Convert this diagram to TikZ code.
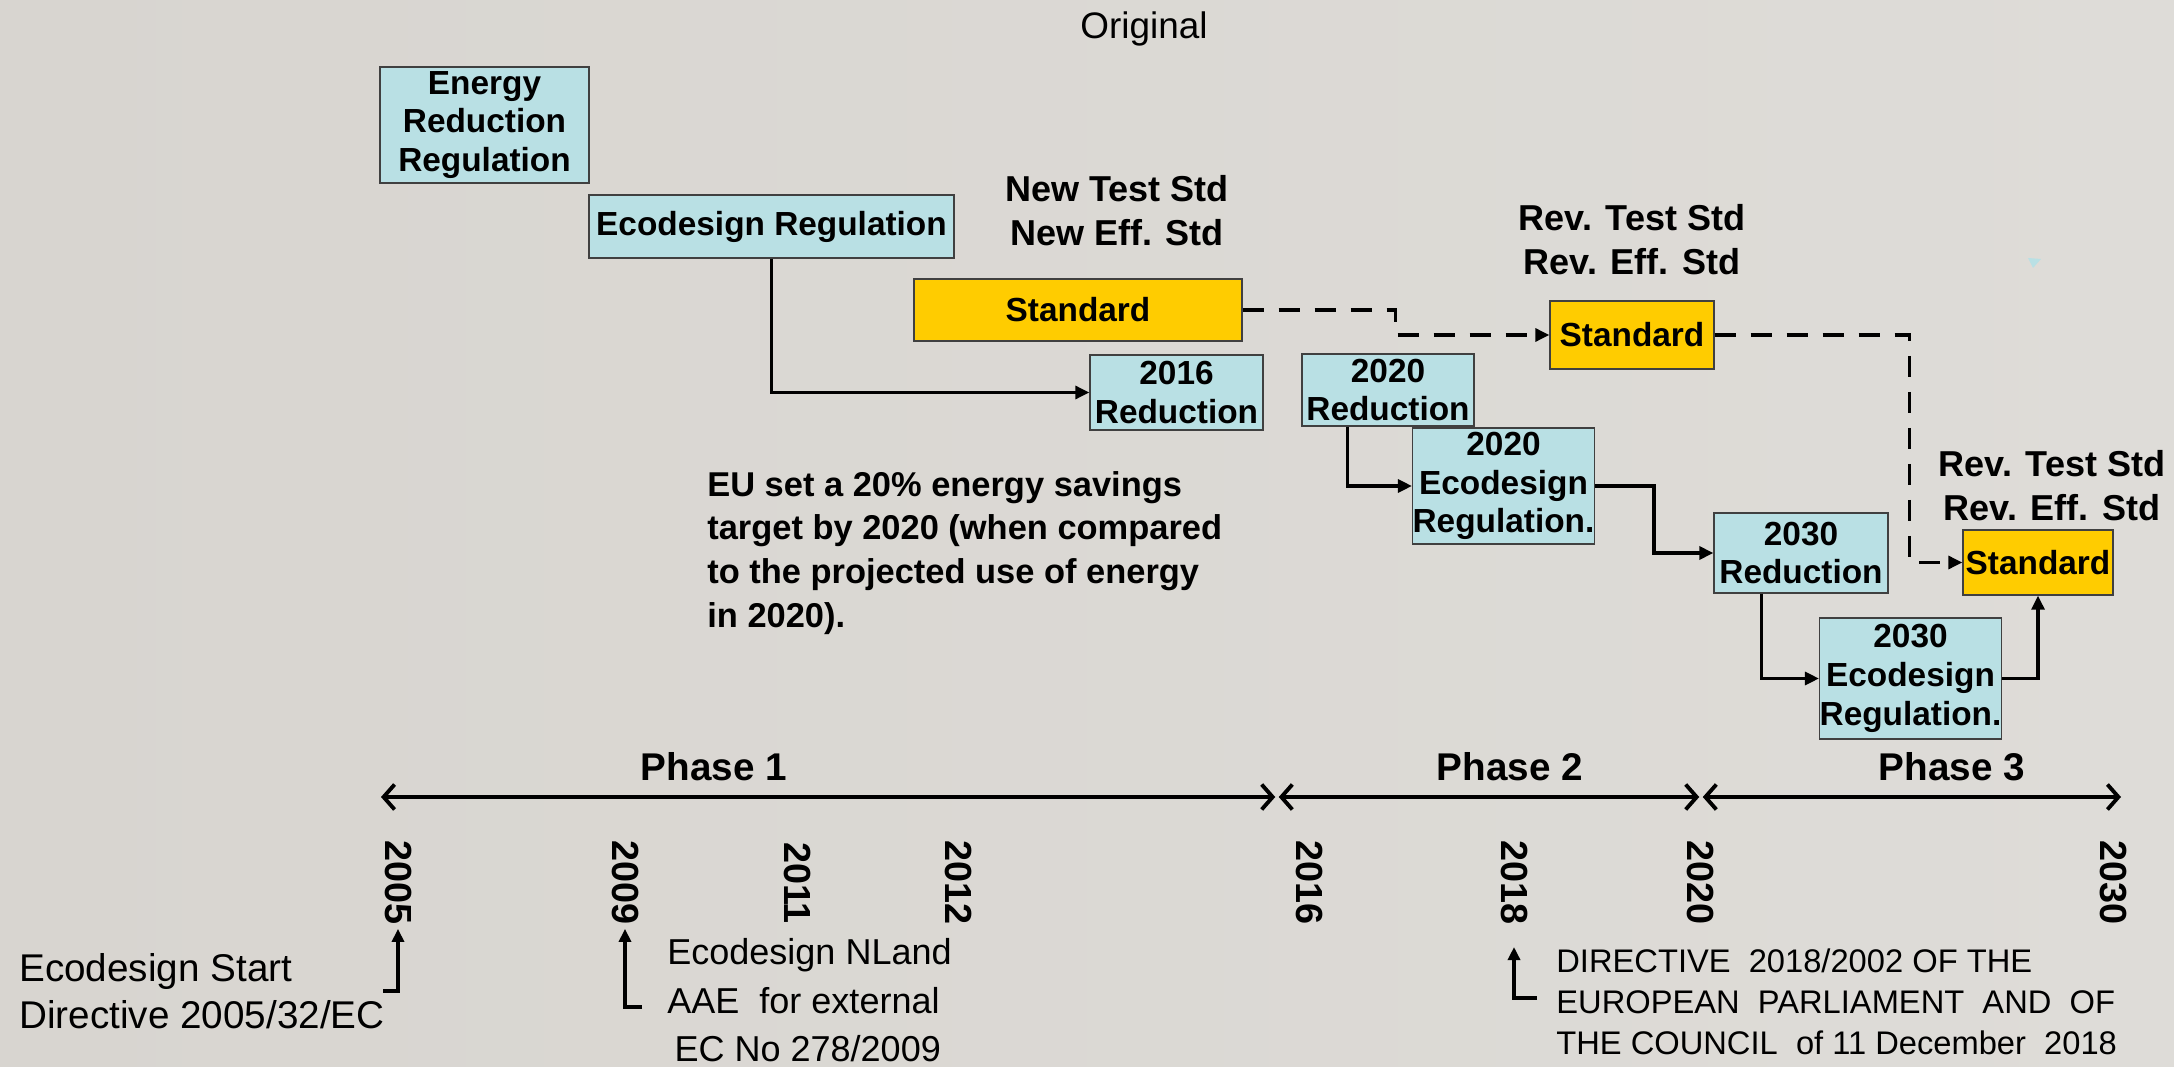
\documentclass[tikz,border=0pt]{standalone}
\usepackage{fontspec}
\setmainfont{Liberation Sans}
\usetikzlibrary{arrows.meta,positioning}
\definecolor{boxblue}{RGB}{185,224,228}
\definecolor{stdyellow}{RGB}{255,204,0}
\definecolor{bgleft}{RGB}{216,213,208}
\definecolor{bgmid}{RGB}{233,231,228}
\definecolor{bgright}{RGB}{222,220,216}

\begin{document}
\begin{tikzpicture}[x=0.02cm,y=-0.02cm]
\tikzset{
    box/.style={
           rectangle,
           draw=black!75,
           line width=0.8pt,
           fill=boxblue,
           align=center,
           inner sep=0pt,
           font=\bfseries\fontsize{19}{22}\selectfont},
    stdbox/.style={
           box,
           fill=stdyellow},
    heading/.style={
           align=center,
           font=\bfseries\fontsize{20.5}{25}\selectfont},
    note/.style={
           anchor=west,
           align=left,
           inner sep=0pt,
           font=\fontsize{20.5}{21}\selectfont},
    year/.style={
           rotate=-90,
           inner sep=2pt,
           font=\bfseries\fontsize{21.5}{24}\selectfont},
    % Define arrow style
    arrow/.style= {
           -{Triangle[length=0.28cm,width=0.26cm]},
           line width=1.8pt},
    dasharrow/.style={
           arrow,
           dash pattern=on 0.42cm off 0.3cm},
    annot/.style={
           -{Triangle[length=0.26cm,width=0.24cm]},
           line width=2pt},
    timeline/.style={
           {Straight Barb[length=0.22cm,width=0.5cm]}-{Straight Barb[length=0.22cm,width=0.5cm]},
           line width=2.2pt}
}
\useasboundingbox (0,0) rectangle (2174,1067);
\shade[left color=bgleft, middle color=bgmid, right color=bgright] (0,0) rectangle (2174,1067);
\fill[boxblue] (2028,258) -- (2041,259) -- (2033,268) -- cycle;

\node[font=\fontsize{21}{25}\selectfont] (title) at (1144,29) {Original};

% boxes
\node[box,minimum width=4.18cm,minimum height=2.32cm] (energy) at (484.5,125) {Energy\\Reduction\\Regulation};
\node[box,minimum width=7.3cm,minimum height=1.26cm] (ecoreg) at (771.5,226.5) {Ecodesign Regulation};
\node[stdbox,minimum width=6.56cm,minimum height=1.24cm] (std1) at (1078,310) {Standard};
\node[box,minimum width=3.46cm,minimum height=1.5cm] (red16) at (1176.5,392.5) {2016\\Reduction};
\node[stdbox,minimum width=3.28cm,minimum height=1.36cm] (std2) at (1632,335) {Standard};
\node[box,minimum width=3.44cm,minimum height=1.44cm] (red20) at (1388,390) {2020\\Reduction};
\node[box,minimum width=3.62cm,minimum height=2.32cm] (eco20) at (1503.5,486) {2020\\Ecodesign\\Regulation.};
\node[box,minimum width=3.48cm,minimum height=1.6cm] (red30) at (1801,553) {2030\\Reduction};
\node[box,minimum width=3.62cm,minimum height=2.42cm] (eco30) at (1910.5,678.5) {2030\\Ecodesign\\Regulation.};
\node[stdbox,minimum width=3.0cm,minimum height=1.3cm] (std3) at (2038,562.5) {Standard};

\node[heading] (newstd) at (1117,211) {New Test Std\\New Eff. Std};
\node[heading] (revstd) at (1632,240) {Rev. Test Std\\Rev. Eff. Std};
\node[heading] (revstd3) at (2052,486) {Rev. Test Std\\Rev. Eff. Std};

\node[anchor=west,align=left,inner sep=0pt,font=\bfseries\fontsize{19.6}{25}\selectfont] (target) at (707,553)
  {EU set a 20\% energy savings\\target by 2020 (when compared\\to the projected use of energy\\in 2020).};

% connectors
\draw[arrow] (ecoreg.south) |- (red16.west);
\draw[dasharrow] (std1.east) -- ++(153,0) |- (std2.west);
\draw[dasharrow] (std2.east) -- ++(195,0) |- (std3.west);
\draw[arrow] ([xshift=0.92cm]red20.south west) |- (eco20.west);
\draw[arrow,line width=2.4pt] (eco20.east) -- ++(59,0) |- (red30.west);
\draw[arrow] ([xshift=0.96cm]red30.south west) |- (eco30.west);
\draw[arrow] (eco30.east) -| (std3.south);

% timeline
\coordinate (t05) at (381,797);
\coordinate (t16) at (1277,797);
\coordinate (t20) at (1701,797);
\coordinate (t30) at (2121,797);
\draw[timeline] (t05) -- ([xshift=-1pt]t16);
\draw[timeline] ([xshift=1pt]t16) -- ([xshift=-1pt]t20);
\draw[timeline] ([xshift=1pt]t20) -- (t30);
\node[font=\bfseries\fontsize{22}{25}\selectfont] (phase1) at (714,767) {Phase 1};
\node[font=\bfseries\fontsize{22}{25}\selectfont] (phase2) at (1510,767) {Phase 2};
\node[font=\bfseries\fontsize{22}{25}\selectfont] (phase3) at (1952,767) {Phase 3};

\foreach \yr/\xpos in {2005/398,2009/625,2011/797,2012/958,2016/1309,2018/1514,2020/1700,2030/2113}
  \node[year] (y\yr) at (\xpos,883) {\yr};

% notes below the years
\node[note,font=\fontsize{22}{26.7}\selectfont] (start05) at (19,991) {Ecodesign Start\\Directive 2005/32/EC};
\node[note,font=\fontsize{20.5}{21}\selectfont] (nland09) at (667,1000)
  {Ecodesign NLand\\[7pt]AAE\ \ for external\\[6pt]\hspace{0.2em}EC No 278/2009};
\node[note,font=\fontsize{18.6}{23.2}\selectfont] (dir18) at (1556,1002)
  {DIRECTIVE\ \ 2018/2002 OF THE\\EUROPEAN\ \ PARLIAMENT\ \ AND\ \ OF\\THE COUNCIL\ \ of 11 December\ \ 2018};

\coordinate (h05) at (383,991);
\coordinate (h09) at (642,1007);
\coordinate (h18) at (1537,998);
\coordinate (tip18) at (1514,947);
\draw[annot] (h05) -| (y2005.east);
\draw[annot] (h09) -| (y2009.east);
\draw[annot] (h18) -| (tip18);
\end{tikzpicture}
\end{document}
